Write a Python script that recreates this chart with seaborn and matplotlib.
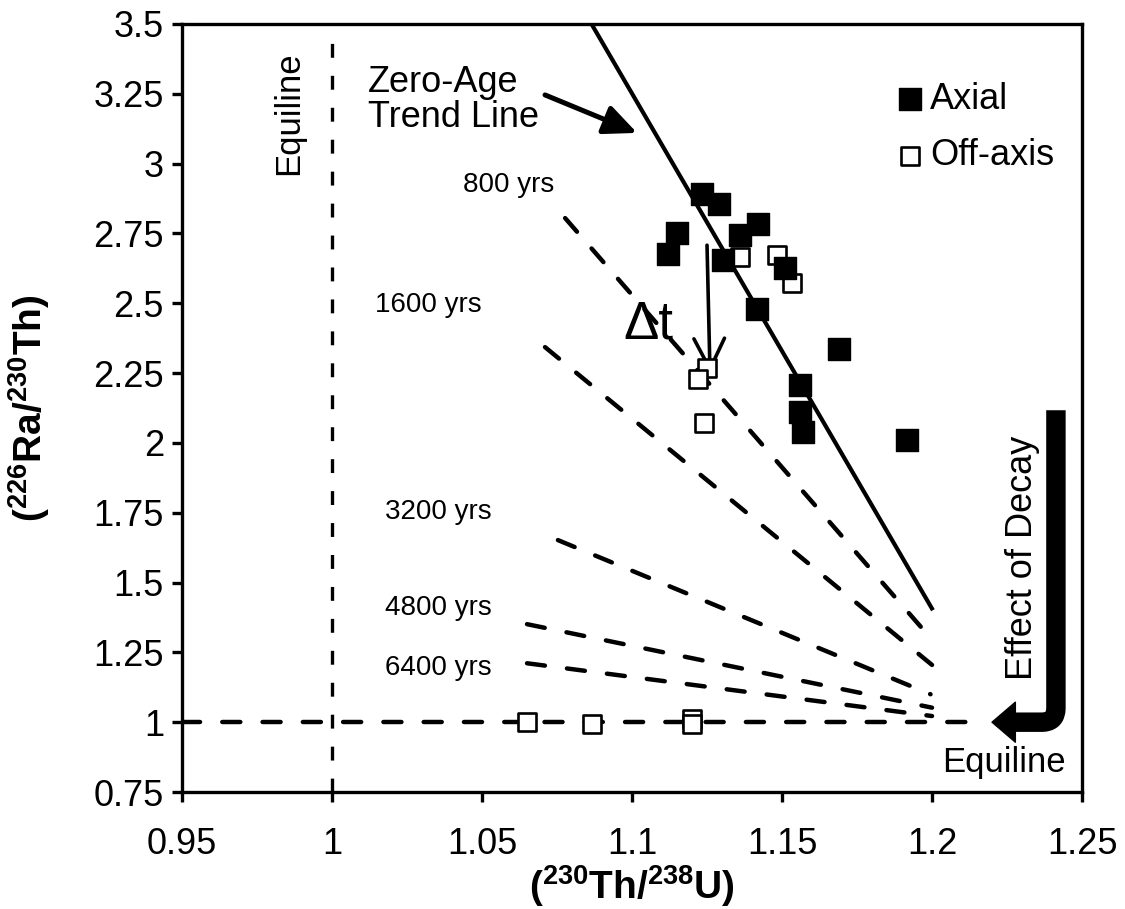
import numpy as np
import pandas as pd
import seaborn as sns
import matplotlib.pyplot as plt
from matplotlib.patches import FancyArrowPatch

# axial samples (filled squares)
axial_th_u = [1.1232, 1.1290, 1.1149, 1.1119, 1.1360, 1.1421, 1.1304, 1.1510,
              1.1418, 1.1691, 1.1560, 1.1560, 1.1571, 1.1917]
axial_ra_th = [2.891, 2.855, 2.750, 2.676, 2.744, 2.784, 2.655, 2.625,
               2.479, 2.338, 2.207, 2.109, 2.038, 2.010]

# off-axis samples (open squares)
offaxis_th_u = [1.1360, 1.1482, 1.1532, 1.1251, 1.1221, 1.1240,
                1.0649, 1.0866, 1.1199, 1.1199]
offaxis_ra_th = [2.667, 2.673, 2.573, 2.270, 2.229, 2.070,
                 1.001, 0.995, 1.011, 0.993]

# zero-age trend line
trend_x = [1.0865, 1.2003]
trend_y = [3.50, 1.401]

# isochrons
iso_labels = ['800 yrs', '1600 yrs', '3200 yrs', '4800 yrs', '6400 yrs']
iso_x0 = [1.0777, 1.0710, 1.0753, 1.0650, 1.0650]
iso_y0 = [2.805, 2.343, 1.652, 1.351, 1.211]
iso_x1 = [1.2010, 1.2000, 1.1995, 1.2000, 1.2000]
iso_y1 = [1.283, 1.205, 1.100, 1.052, 1.022]
iso_label_x = [1.0590, 1.0320, 1.0353, 1.0353, 1.0353]
iso_label_y = [2.923, 2.494, 1.752, 1.408, 1.193]

# equilines
equi_h_x = [0.95, 1.214]
equi_h_y = [1.0, 1.0]
equi_v_x = [1.0, 1.0]
equi_v_y = [0.75, 3.5]

x_ticks = [0.95, 1.0, 1.05, 1.1, 1.15, 1.2, 1.25]
x_ticklabels = ['0.95', '1', '1.05', '1.1', '1.15', '1.2', '1.25']
y_ticks = [0.75, 1.0, 1.25, 1.5, 1.75, 2.0, 2.25, 2.5, 2.75, 3.0, 3.25, 3.5]
y_ticklabels = ['0.75', '1', '1.25', '1.5', '1.75', '2', '2.25', '2.5',
                '2.75', '3', '3.25', '3.5']

sns.set_style('ticks')
plt.rcParams['font.family'] = ['Liberation Sans', 'DejaVu Sans']
plt.rcParams['mathtext.fontset'] = 'custom'
plt.rcParams['mathtext.rm'] = 'Liberation Sans'
plt.rcParams['mathtext.bf'] = 'Liberation Sans:bold'
plt.rcParams['lines.scale_dashes'] = False
plt.rcParams['text.color'] = 'black'
plt.rcParams['axes.labelcolor'] = 'black'
plt.rcParams['xtick.color'] = 'black'
plt.rcParams['ytick.color'] = 'black'

fig = plt.figure(figsize=(11.25, 9.09), dpi=100)
ax = fig.add_axes([0.1618, 0.1287, 0.8, 0.8449])

# lines
ax.plot(equi_v_x, equi_v_y, color='black', lw=2.4, dashes=(10, 13))
ax.plot(equi_h_x, equi_h_y, color='black', lw=3.2, dashes=(13, 16),
        dash_capstyle='round')
for x0, y0, x1, y1 in zip(iso_x0, iso_y0, iso_x1, iso_y1):
    ax.plot([x0, x1], [y0, y1], color='black', lw=3.2, dashes=(13, 16),
            dash_capstyle='round')
ax.plot(trend_x, trend_y, color='black', lw=3.0, solid_capstyle='butt')

# samples
sns.scatterplot(x=offaxis_th_u, y=offaxis_ra_th, marker='s', s=155,
                color='white', edgecolor='black', linewidth=1.9,
                label='Off-axis', ax=ax, zorder=4)
sns.scatterplot(x=axial_th_u, y=axial_ra_th, marker='s', s=230,
                color='black', edgecolor='black', linewidth=1,
                label='Axial', ax=ax, zorder=5)

handles, labels = ax.get_legend_handles_labels()
order = [labels.index('Axial'), labels.index('Off-axis')]
ax.legend([handles[i] for i in order], [labels[i] for i in order],
          loc='upper left', bbox_to_anchor=(0.797, 0.925), frameon=False,
          fontsize=26, handlelength=0.6, handletextpad=0.25,
          labelspacing=0.6, borderpad=0, borderaxespad=0)

# labels on the plot
ax.text(1.012, 3.228, 'Zero-Age\nTrend Line', fontsize=26, ha='left',
        va='center', linespacing=1.0)
ax.annotate('', xy=(1.1017, 3.110), xytext=(1.071, 3.246),
            arrowprops=dict(arrowstyle='-|>,head_length=1.0,head_width=0.45',
                            lw=3.6, color='black', mutation_scale=20,
                            shrinkA=0, shrinkB=0))
for lab, lx, ly in zip(iso_labels, iso_label_x, iso_label_y):
    ax.text(lx, ly, lab, fontsize=20, ha='center', va='center')

ax.text(1.1053, 2.425, '\u0394t', fontsize=38, ha='center', va='center')
ax.annotate('', xy=(1.126, 2.250), xytext=(1.125, 2.708),
            arrowprops=dict(arrowstyle='->,head_length=1.1,head_width=0.55',
                            lw=2.6, color='black', mutation_scale=20,
                            shrinkA=0, shrinkB=0))

# effect of decay arrow
shaft = FancyArrowPatch(posA=(1.2413, 2.117), posB=(1.2265, 1.0),
                        arrowstyle='-',
                        connectionstyle='angle,angleA=90,angleB=0,rad=14',
                        lw=14, color='black', capstyle='butt',
                        shrinkA=0, shrinkB=0, zorder=5)
ax.add_patch(shaft)
ax.annotate('', xy=(1.2200, 1.0), xytext=(1.2300, 1.0),
            arrowprops=dict(arrowstyle='simple,head_length=1.05,head_width=1.8,tail_width=0.01',
                            color='black', mutation_scale=16,
                            shrinkA=0, shrinkB=0), zorder=5)
ax.text(1.2300, 1.59, 'Effect of Decay', rotation=90, fontsize=26,
        ha='center', va='center')
ax.text(0.9855, 3.18, 'Equiline', rotation=90, fontsize=25,
        ha='center', va='center')
ax.text(1.224, 0.857, 'Equiline', fontsize=25, ha='center', va='center')

# axes
ax.set_xlim(0.95, 1.25)
ax.set_ylim(0.75, 3.5)
ax.set_xticks(x_ticks)
ax.set_xticklabels(x_ticklabels)
ax.set_yticks(y_ticks)
ax.set_yticklabels(y_ticklabels)
ax.tick_params(direction='out', length=7, width=2.4, labelsize=26, pad=6)
ax.tick_params(axis='x', pad=18)
for sp in ax.spines.values():
    sp.set_visible(True)
    sp.set_linewidth(2.4)
    sp.set_color('black')

ax.set_xlabel(r'($^{\mathbf{230}}$Th/$^{\mathbf{238}}$U)', fontsize=28,
              fontweight='bold', labelpad=1)
ax.set_ylabel(r'($^{\mathbf{226}}$Ra/$^{\mathbf{230}}$Th)', fontsize=28,
              fontweight='bold', labelpad=30)

fig.savefig('out.png', dpi=100)
